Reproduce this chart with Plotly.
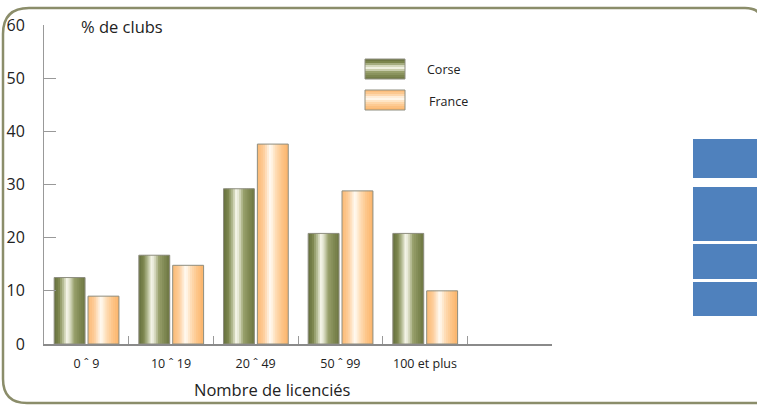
import plotly.graph_objects as go

# ---- data ----
categories = ["0 ˆ 9", "10 ˆ 19", "20 ˆ 49", "50 ˆ 99", "100 et plus"]
corse = [12.5, 16.7, 29.2, 20.8, 20.8]
france = [9.0, 14.8, 37.6, 28.8, 10.0]
y_ticks = [0, 10, 20, 30, 40, 50, 60]

W, H = 757, 405
L, R, T, B = 44, 205, 25, 61
PW, PH = W - L - R, H - T - B


def px(x):
    return (x - L) / PW


def py(y):
    return (H - B - y) / PH


def hex2rgb(h):
    h = h.lstrip("#")
    return tuple(int(h[i:i + 2], 16) for i in (0, 2, 4))


def grad(stops, t):
    for (t0, c0), (t1, c1) in zip(stops, stops[1:]):
        if t0 <= t <= t1:
            a, b = hex2rgb(c0), hex2rgb(c1)
            f = (t - t0) / (t1 - t0) if t1 > t0 else 0
            r = [round(a[i] + (b[i] - a[i]) * f) for i in range(3)]
            return "rgb(%d,%d,%d)" % tuple(r)
    return stops[-1][1]


corse_stops = [(0, "#66703e"), (0.15, "#7b854d"), (0.3, "#b9bf98"), (0.42, "#fafaf0"),
               (0.52, "#d6d9bf"), (0.65, "#98a06c"), (0.85, "#7d8650"), (1, "#6f7844")]
france_stops = [(0, "#fbba74"), (0.2, "#fdcc98"), (0.42, "#fffbf4"),
                (0.6, "#fedcb4"), (0.8, "#fdc486"), (1, "#fbb56c")]

series = [("Corse", corse, corse_stops, -0.38), ("France", france, france_stops, 0.02)]
BW = 0.365
N = 16

fig = go.Figure()
for name, vals, stops, off in series:
    sw = BW / N
    for i in range(N):
        fig.add_trace(go.Bar(
            x=categories, y=vals, name=name, showlegend=False,
            offset=off + i * sw, width=min(sw * 1.8, BW - i * sw),
            marker=dict(color=grad(stops, (i + 0.5) / N), line=dict(width=0)),
            hoverinfo="skip"))
    fig.add_trace(go.Bar(
        x=categories, y=vals, name=name, showlegend=False,
        offset=off, width=BW,
        marker=dict(color="rgba(0,0,0,0)", line=dict(color="#8e8e80", width=1))))

shapes = []
# rounded frame
x0, x1, y0, y1 = 3, 763, 8, 403
r1, r2, r3 = 26, 18, 24
path = (f"M {px(x0)},{py(y0 + r1)} Q {px(x0)},{py(y0)} {px(x0 + r1)},{py(y0)} "
        f"L {px(x1 - r2)},{py(y0)} Q {px(x1)},{py(y0)} {px(x1)},{py(y0 + r2)} "
        f"L {px(x1)},{py(y1)} L {px(x0 + r3)},{py(y1)} "
        f"Q {px(x0)},{py(y1)} {px(x0)},{py(y1 - r3)} Z")
shapes.append(dict(type="path", xref="paper", yref="paper", path=path,
                   line=dict(color="#8b8d6a", width=2.5), layer="below"))

# blue blocks
for ya, yb in [(139, 178), (187, 241), (244, 279), (282, 316)]:
    shapes.append(dict(type="rect", xref="paper", yref="paper",
                       x0=px(693), x1=px(760), y0=py(yb), y1=py(ya),
                       fillcolor="#4f81bd", line=dict(width=0)))

# legend swatches
leg = [(59, corse_stops, "Corse", 425), (90, france_stops, "France", 427)]
annotations = []
for top, stops, label, tx in leg:
    n = 10
    hgt = 20
    for i in range(n):
        t = (i + 0.5) / n
        shapes.append(dict(type="rect", xref="paper", yref="paper",
                           x0=px(365), x1=px(405),
                           y0=py(top + (i + 1) * hgt / n), y1=py(top + i * hgt / n),
                           fillcolor=grad(stops, t), line=dict(width=0)))
    shapes.append(dict(type="rect", xref="paper", yref="paper",
                       x0=px(365), x1=px(405), y0=py(top + hgt), y1=py(top),
                       line=dict(color="#8e8e80", width=1)))
    annotations.append(dict(xref="paper", yref="paper", x=px(tx), y=py(top + 11),
                            text=label, showarrow=False, xanchor="left", yanchor="middle",
                            font=dict(size=12.5, color="#222")))

annotations.append(dict(xref="paper", yref="paper", x=px(79), y=py(26),
                        text="% de clubs", showarrow=False, xanchor="left", yanchor="middle",
                        font=dict(size=16.5, color="#222")))
annotations.append(dict(xref="paper", yref="paper", x=px(272), y=py(389),
                        text="Nombre de licenciés", showarrow=False, xanchor="center",
                        yanchor="middle", font=dict(size=16.5, color="#222")))

fig.update_layout(
    width=W, height=H, margin=dict(l=L, r=R, t=T, b=B, pad=0, autoexpand=False),
    paper_bgcolor="white", plot_bgcolor="rgba(0,0,0,0)",
    barmode="overlay", showlegend=False,
    font=dict(family="Open Sans, sans-serif", color="#222"),
    shapes=shapes, annotations=annotations,
    xaxis=dict(type="category", categoryorder="array", categoryarray=categories,
               range=[-0.5, 5.5], showgrid=False, zeroline=False, automargin=False,
               showline=True, linecolor="#8a8a8a", linewidth=1.5,
               ticks="inside", tickson="boundaries", ticklen=8, tickcolor="#999",
               tickwidth=1, tickfont=dict(size=12.5), ticklabelstandoff=7),
    yaxis=dict(range=[0, 60], tickvals=y_ticks, showgrid=False, zeroline=False,
               automargin=False,
               showline=True, linecolor="#999", linewidth=1,
               ticks="inside", ticklen=12, tickcolor="#999", tickwidth=1,
               tickfont=dict(size=16), ticklabelstandoff=15),
)

fig.write_html("out.html", config={"displayModeBar": False},
               post_script="document.body.style.margin='0';document.body.style.overflow='hidden';")
